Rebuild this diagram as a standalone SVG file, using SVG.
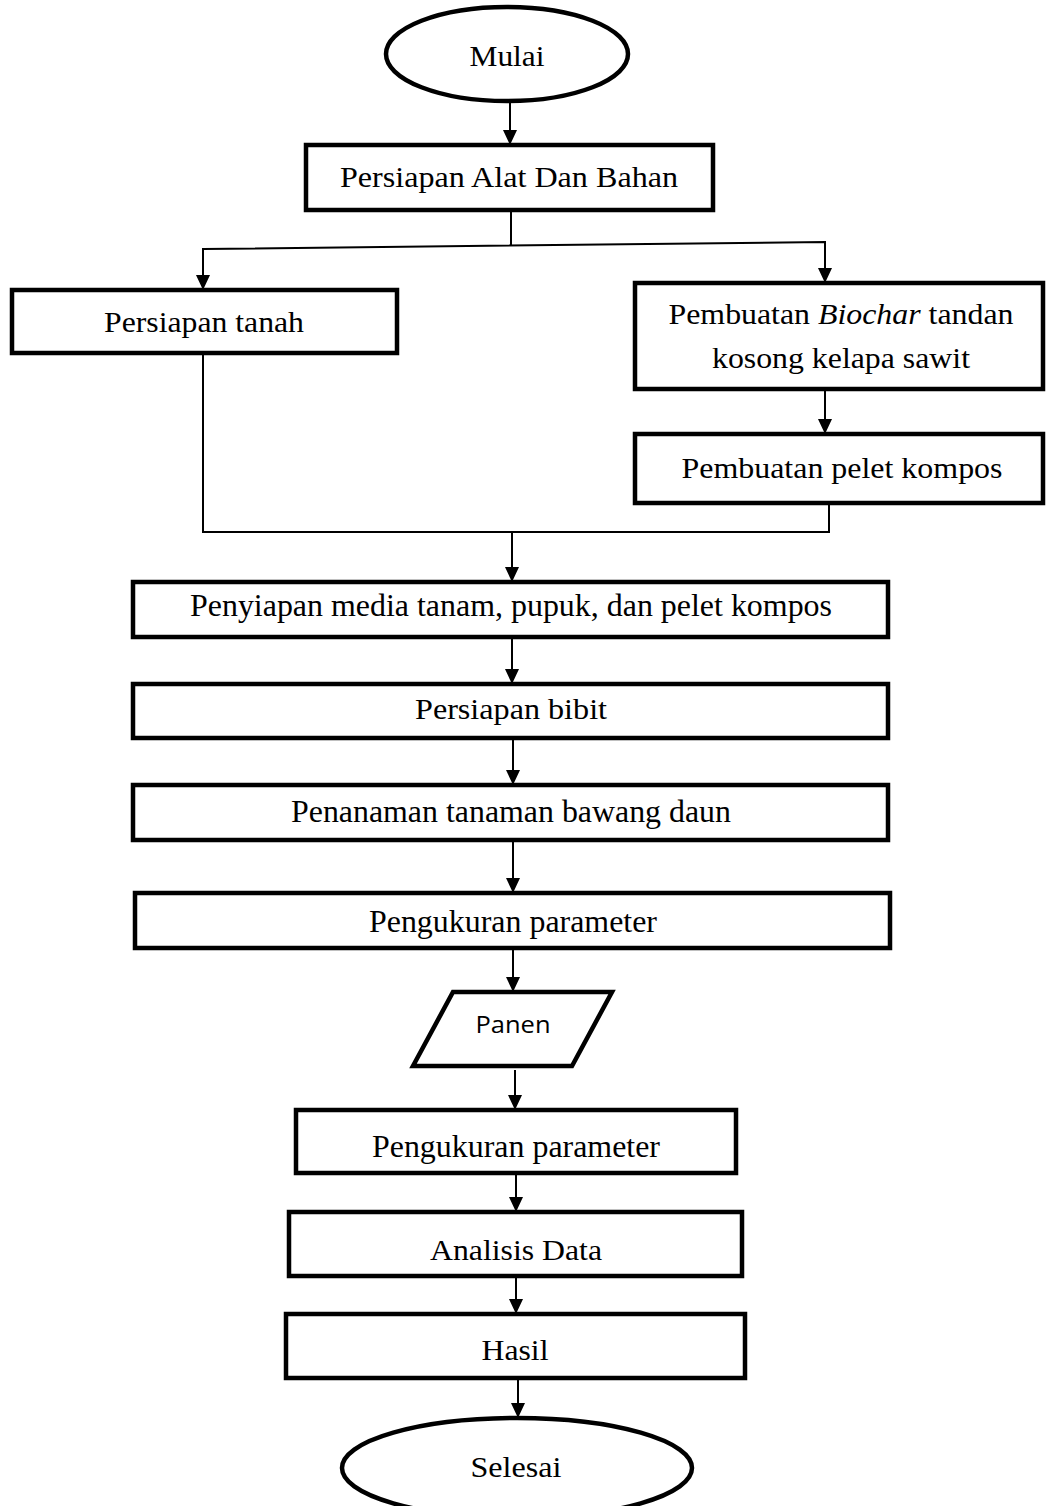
<svg xmlns="http://www.w3.org/2000/svg" width="1046" height="1506" viewBox="0 0 1046 1506">
<style>
.box{fill:#fff;stroke:#000;stroke-width:4.5}
.t{font-family:'Liberation Serif','Times New Roman',Times,serif;font-size:30px;fill:#000;text-anchor:middle}
.b{font-size:32px}
.s{font-family:'Open Sans','Liberation Sans',sans-serif;font-size:23px;fill:#000;text-anchor:middle}
.c{fill:none;stroke:#000;stroke-width:2}
</style>
<defs>
<marker id="ah" markerUnits="userSpaceOnUse" markerWidth="16" markerHeight="16" refX="15" refY="7" orient="auto">
<path d="M0,0 L15,7 L0,14 Z" fill="#000"/>
</marker>
</defs>
<rect width="1046" height="1506" fill="#fff"/>
<g id="connectors">
<line class="c" x1="510" y1="101" x2="510" y2="145" marker-end="url(#ah)"/>
<line class="c" x1="511" y1="210" x2="511" y2="246"/>
<polyline class="c" points="203,249 825,242 825,283" marker-end="url(#ah)"/>
<line class="c" x1="203" y1="248" x2="203" y2="290" marker-end="url(#ah)"/>
<line class="c" x1="825" y1="389" x2="825" y2="434" marker-end="url(#ah)"/>
<polyline class="c" points="203,353 203,532 829,532 829,503"/>
<line class="c" x1="512" y1="532" x2="512" y2="582" marker-end="url(#ah)"/>
<line class="c" x1="512" y1="637" x2="512" y2="684" marker-end="url(#ah)"/>
<line class="c" x1="513" y1="738" x2="513" y2="785" marker-end="url(#ah)"/>
<line class="c" x1="513" y1="840" x2="513" y2="893" marker-end="url(#ah)"/>
<line class="c" x1="513" y1="948" x2="513" y2="992" marker-end="url(#ah)"/>
<line class="c" x1="515" y1="1070" x2="515" y2="1110" marker-end="url(#ah)"/>
<line class="c" x1="516" y1="1173" x2="516" y2="1212" marker-end="url(#ah)"/>
<line class="c" x1="516" y1="1276" x2="516" y2="1314" marker-end="url(#ah)"/>
<line class="c" x1="518" y1="1378" x2="518" y2="1418" marker-end="url(#ah)"/>
</g>
<g id="mulai">
<ellipse class="box" cx="507" cy="54" rx="121" ry="47"/>
<text class="t" x="507" y="66" textLength="75" lengthAdjust="spacingAndGlyphs">Mulai</text>
</g>
<g id="alat">
<rect class="box" x="306" y="145" width="407" height="65"/>
<text class="t" x="509" y="187" textLength="338" lengthAdjust="spacingAndGlyphs">Persiapan Alat Dan Bahan</text>
</g>
<g id="tanah">
<rect class="box" x="12" y="290" width="385" height="63"/>
<text class="t" x="204" y="332" textLength="200" lengthAdjust="spacingAndGlyphs">Persiapan tanah</text>
</g>
<g id="biochar">
<rect class="box" x="635" y="283" width="408" height="106"/>
<text class="t" x="841" y="324" textLength="345" lengthAdjust="spacingAndGlyphs">Pembuatan <tspan font-style="italic">Biochar</tspan> tandan</text>
<text class="t" x="841" y="368" textLength="258" lengthAdjust="spacingAndGlyphs">kosong kelapa sawit</text>
</g>
<g id="pelet">
<rect class="box" x="635" y="434" width="408" height="69"/>
<text class="t" x="842" y="478" textLength="321" lengthAdjust="spacingAndGlyphs">Pembuatan pelet kompos</text>
</g>
<g id="media">
<rect class="box" x="133" y="582" width="755" height="55"/>
<text class="t b" x="511" y="616" textLength="642" lengthAdjust="spacingAndGlyphs">Penyiapan media tanam, pupuk, dan pelet kompos</text>
</g>
<g id="bibit">
<rect class="box" x="133" y="684" width="755" height="54"/>
<text class="t" x="511" y="719" textLength="192" lengthAdjust="spacingAndGlyphs">Persiapan bibit</text>
</g>
<g id="penanaman">
<rect class="box" x="133" y="785" width="755" height="55"/>
<text class="t b" x="511" y="822" textLength="440" lengthAdjust="spacingAndGlyphs">Penanaman tanaman bawang daun</text>
</g>
<g id="pengukuran1">
<rect class="box" x="135" y="893" width="755" height="55"/>
<text class="t b" x="513" y="932" textLength="288" lengthAdjust="spacingAndGlyphs">Pengukuran parameter</text>
</g>
<g id="panen">
<polygon class="box" points="453,992 612,992 572,1066 413,1066"/>
<text class="s" x="513" y="1033" textLength="75" lengthAdjust="spacingAndGlyphs">Panen</text>
</g>
<g id="pengukuran2">
<rect class="box" x="296" y="1110" width="440" height="63"/>
<text class="t b" x="516" y="1157" textLength="288" lengthAdjust="spacingAndGlyphs">Pengukuran parameter</text>
</g>
<g id="analisis">
<rect class="box" x="289" y="1212" width="453" height="64"/>
<text class="t" x="516" y="1260" textLength="172" lengthAdjust="spacingAndGlyphs">Analisis Data</text>
</g>
<g id="hasil">
<rect class="box" x="286" y="1314" width="459" height="64"/>
<text class="t" x="515" y="1360" textLength="67" lengthAdjust="spacingAndGlyphs">Hasil</text>
</g>
<g id="selesai">
<ellipse class="box" cx="517" cy="1468" rx="175" ry="50"/>
<text class="t" x="516" y="1477" textLength="91" lengthAdjust="spacingAndGlyphs">Selesai</text>
</g>
</svg>
